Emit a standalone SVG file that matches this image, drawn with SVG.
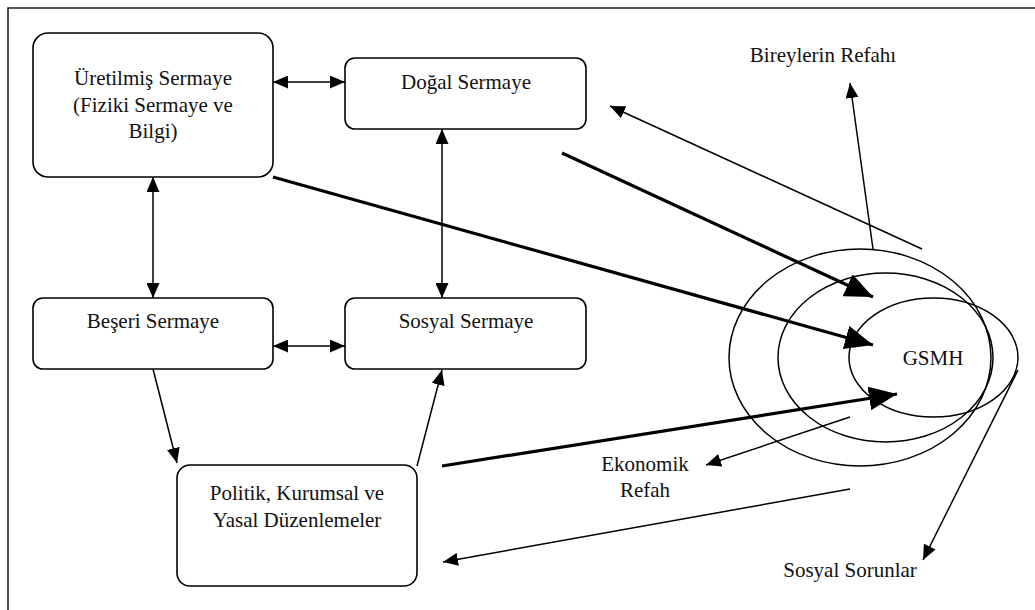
<svg xmlns="http://www.w3.org/2000/svg" width="1035" height="610" viewBox="0 0 1035 610">
  <style>
    .box { fill: #fff; stroke: #000; stroke-width: 1.6; }
    .lbl { font-size: 21px; fill: #111; text-anchor: middle; }
    .thin { fill: none; stroke: #000; stroke-width: 1.5; }
    .thick { fill: none; stroke: #000; stroke-width: 3.2; }
    .ring { fill: none; stroke: #000; stroke-width: 1.5; }
  </style>
  <defs>
    <marker id="head" viewBox="0 0 15 13" refX="15" refY="6.5" markerWidth="15" markerHeight="13" markerUnits="userSpaceOnUse" orient="auto-start-reverse">
      <path d="M0,0 L15,6.5 L0,13 z" fill="#000"/>
    </marker>
    <marker id="bighead" viewBox="0 0 28 24" refX="28" refY="12" markerWidth="28" markerHeight="24" markerUnits="userSpaceOnUse" orient="auto">
      <path d="M0,0 L28,12 L0,24 z" fill="#000"/>
    </marker>
  </defs>

  <rect width="1035" height="610" fill="#fff"/>
  <!-- frame (top and left edges) -->
  <path d="M8,610 V8 H1035" fill="none" stroke="#222" stroke-width="1.6"/>

  <g font-family="Liberation Serif, Times New Roman, DejaVu Serif, serif">
    <g id="uretilmis">
      <rect class="box" x="33" y="33" width="240" height="144" rx="15"/>
      <text class="lbl" x="153" y="85">Üretilmiş Sermaye</text>
      <text class="lbl" x="153" y="112">(Fiziki Sermaye ve</text>
      <text class="lbl" x="153" y="138">Bilgi)</text>
    </g>
    <g id="dogal">
      <rect class="box" x="345" y="58" width="241" height="71" rx="10"/>
      <text class="lbl" x="466" y="89">Doğal Sermaye</text>
    </g>
    <g id="beseri">
      <rect class="box" x="33" y="298" width="240" height="71" rx="10"/>
      <text class="lbl" x="153" y="328">Beşeri Sermaye</text>
    </g>
    <g id="sosyal">
      <rect class="box" x="345" y="298" width="241" height="71" rx="10"/>
      <text class="lbl" x="466" y="328">Sosyal Sermaye</text>
    </g>
    <g id="politik">
      <rect class="box" x="177" y="465" width="240" height="121" rx="13"/>
      <text class="lbl" x="297" y="500">Politik, Kurumsal ve</text>
      <text class="lbl" x="297" y="527">Yasal Düzenlemeler</text>
    </g>

    <g id="gsmh">
      <ellipse class="ring" cx="860" cy="357.5" rx="131" ry="108.5"/>
      <ellipse class="ring" cx="885.5" cy="357.5" rx="107.5" ry="84.5"/>
      <ellipse class="ring" cx="933.5" cy="357.5" rx="84.5" ry="59.5"/>
      <text class="lbl" x="933" y="365">GSMH</text>
    </g>

    <g id="outcomes">
      <text class="lbl" x="823" y="62">Bireylerin Refahı</text>
      <text class="lbl" x="645" y="471">Ekonomik</text>
      <text class="lbl" x="645" y="497">Refah</text>
      <text class="lbl" x="850" y="577">Sosyal Sorunlar</text>
    </g>
  </g>

  <g id="connectors">
    <!-- two-way links between capital types -->
    <line class="thin" x1="273" y1="82" x2="345" y2="82" marker-start="url(#head)" marker-end="url(#head)"/>
    <line class="thin" x1="273" y1="346" x2="345" y2="346" marker-start="url(#head)" marker-end="url(#head)"/>
    <line class="thin" x1="153" y1="177" x2="153" y2="298" marker-start="url(#head)" marker-end="url(#head)"/>
    <line class="thin" x1="442" y1="129" x2="442" y2="298" marker-start="url(#head)" marker-end="url(#head)"/>
    <!-- institutional loop -->
    <line class="thin" x1="153" y1="369" x2="177" y2="463" marker-end="url(#head)"/>
    <line class="thin" x1="417" y1="466" x2="442" y2="370" marker-end="url(#head)"/>
    <!-- inputs to GSMH -->
    <line class="thick" x1="273" y1="177" x2="873" y2="345" marker-end="url(#bighead)"/>
    <line class="thick" x1="562" y1="153" x2="873" y2="297" marker-end="url(#bighead)"/>
    <line class="thick" x1="442" y1="466" x2="897" y2="394" marker-end="url(#bighead)"/>
    <!-- feedbacks and outcomes -->
    <line class="thin" x1="922" y1="249" x2="610" y2="106" marker-end="url(#head)"/>
    <line class="thin" x1="873" y1="249" x2="850" y2="83" marker-end="url(#head)"/>
    <line class="thin" x1="850" y1="417" x2="706" y2="465" marker-end="url(#head)"/>
    <line class="thin" x1="850" y1="489" x2="443" y2="562" marker-end="url(#head)"/>
    <line class="thin" x1="1018" y1="370" x2="923" y2="560" marker-end="url(#head)"/>
  </g>
</svg>
